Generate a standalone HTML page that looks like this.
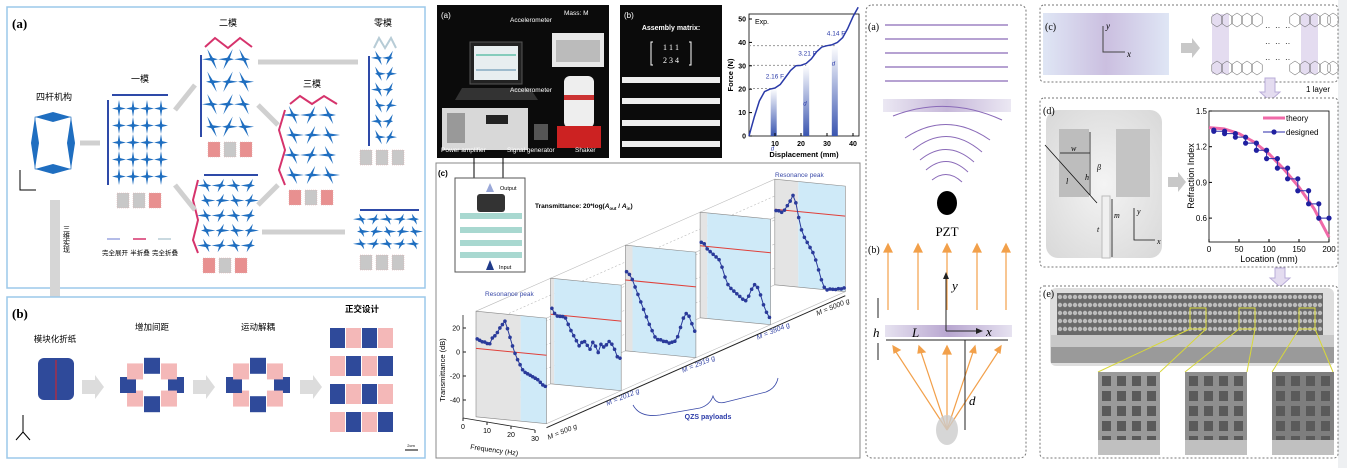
<!DOCTYPE html>
<html><head><meta charset="utf-8">
<style>
html,body{margin:0;padding:0;background:#fff;}
svg{display:block;font-family:"Liberation Sans","Noto Sans CJK SC",sans-serif;}
.serif{font-family:"Liberation Serif","Noto Serif CJK SC",serif;}
</style></head>
<body>
<svg id="fig" width="1347" height="468" viewBox="0 0 1347 468" xmlns="http://www.w3.org/2000/svg">
<defs>
<linearGradient id="purp" x1="0" x2="1"><stop offset="0" stop-color="#e6e2f0"/><stop offset="0.5" stop-color="#b8a6d0"/><stop offset="1" stop-color="#e6e2f0"/></linearGradient>
<linearGradient id="purp2" x1="0" x2="1"><stop offset="0" stop-color="#dfe6f5"/><stop offset="0.5" stop-color="#cbbfe0"/><stop offset="1" stop-color="#dfe6f5"/></linearGradient>
<linearGradient id="gbar" x1="0" y1="0" x2="0" y2="1"><stop offset="0" stop-color="#ffffff"/><stop offset="1" stop-color="#3a55b0"/></linearGradient>
<radialGradient id="cell3d" cx="0.5" cy="0.5" r="0.7"><stop offset="0" stop-color="#f4f4f4"/><stop offset="1" stop-color="#d8d8d8"/></radialGradient>
</defs>

<g>
<rect x="7" y="7" width="418" height="281" fill="#fff" stroke="#9cc8ea" stroke-width="1.5"/>
<text x="12" y="28" class="serif" font-size="13" font-weight="bold">(a)</text>
<text x="54" y="100" font-size="9" text-anchor="middle">四杆机构</text>
<text x="140" y="82" font-size="9" text-anchor="middle">一模</text>
<text x="228" y="26" font-size="9" text-anchor="middle">二模</text>
<text x="312" y="87" font-size="9" text-anchor="middle">三模</text>
<text x="383" y="26" font-size="9" text-anchor="middle">零模</text>
<g id="origami"></g>
<g>
<line x1="107" y1="239" x2="120" y2="239" stroke="#9aa6e0" stroke-width="1.5"/>
<line x1="133" y1="239" x2="146" y2="239" stroke="#d6336c" stroke-width="1.5"/>
<line x1="158" y1="239" x2="171" y2="239" stroke="#b7ccd6" stroke-width="1.5"/>
<text x="115" y="255" font-size="6.5" text-anchor="middle">完全展开</text>
<text x="140" y="255" font-size="6.5" text-anchor="middle">半折叠</text>
<text x="165" y="255" font-size="6.5" text-anchor="middle">完全折叠</text>
</g>
<polygon points="50,200 60,200 60,305 66,305 55,322 44,305 50,305" fill="#d6d6d6"/>
<text x="66" y="225" font-size="7" writing-mode="tb">三维实现</text>
<path d="M20,170 L20,190 L36,190" stroke="#000" fill="none" stroke-width="1"/>
<rect x="7" y="297" width="418" height="161" fill="#fff" stroke="#9cc8ea" stroke-width="1.5"/>
<text x="12" y="318" class="serif" font-size="13" font-weight="bold">(b)</text>
<text x="55" y="342" font-size="8.5" text-anchor="middle">模块化折纸</text>
<text x="152" y="330" font-size="8.5" text-anchor="middle">增加间距</text>
<text x="258" y="330" font-size="8.5" text-anchor="middle">运动解耦</text>
<text x="362" y="312" font-size="8.5" font-weight="bold" text-anchor="middle">正交设计</text>
<g id="cubes"></g>
<polygon points="82,380 95,380 95,375 104,387 95,399 95,394 82,394" fill="#dcdcdc"/>
<polygon points="193,380 206,380 206,375 215,387 206,399 206,394 193,394" fill="#dcdcdc"/>
<polygon points="300,380 313,380 313,375 322,387 313,399 313,394 300,394" fill="#dcdcdc"/>
<line x1="405" y1="450" x2="418" y2="450" stroke="#000" stroke-width="1"/>
<text x="411" y="447" font-size="4" text-anchor="middle">2cm</text>
<path d="M23,432 L23,415 M23,432 L16,440 M23,432 L30,440" stroke="#000" stroke-width="1" fill="none"/>
</g>

<g>
<rect x="437" y="5" width="172" height="153" fill="#0b0b0b"/>
<rect x="470" y="42" width="52" height="42" fill="#222" stroke="#555"/>
<rect x="474" y="46" width="44" height="34" fill="#e8eef0"/>
<line x1="476" y1="55" x2="516" y2="55" stroke="#2a8"/>
<line x1="476" y1="70" x2="516" y2="70" stroke="#58a"/>
<polygon points="462,88 530,88 538,100 455,100" fill="#333"/>
<rect x="442" y="108" width="86" height="42" fill="#d8d8d8"/>
<rect x="447" y="113" width="18" height="30" fill="#999"/>
<rect x="486" y="115" width="22" height="9" fill="#222"/>
<rect x="534" y="124" width="14" height="16" fill="#555"/>
<rect x="552" y="33" width="52" height="34" fill="#e8e8e8"/>
<rect x="556" y="40" width="44" height="22" fill="#bbb"/>
<rect x="564" y="76" width="30" height="52" rx="6" fill="#eee"/>
<rect x="564" y="95" width="30" height="5" fill="#c33"/>
<rect x="557" y="126" width="44" height="22" fill="#c22"/>
<g fill="#fff" font-size="6.5">
<text x="441" y="18" font-size="8">(a)</text>
<text x="564" y="15">Mass: M</text>
<text x="510" y="22">Accelerometer</text>
<text x="510" y="92">Accelerometer</text>
<text x="441" y="152">Power amplifier</text>
<text x="507" y="152">Signal generator</text>
<text x="575" y="152">Shaker</text>
</g>
</g>
<g>
<rect x="620" y="5" width="102" height="153" fill="#0b0b0b"/>
<text x="624" y="18" fill="#fff" font-size="8">(b)</text>
<text x="671" y="30" fill="#fff" font-size="7" font-weight="bold" text-anchor="middle">Assembly matrix:</text>
<text x="671" y="50" fill="#fff" font-size="8" class="serif" text-anchor="middle">1   1   1</text>
<text x="671" y="63" fill="#fff" font-size="8" class="serif" text-anchor="middle">2   3   4</text>
<path d="M653,42 L651,42 L651,65 L653,65 M689,42 L691,42 L691,65 L689,65" stroke="#fff" fill="none"/>
<rect x="622" y="77" width="98" height="6" fill="#eee"/>
<rect x="622" y="98" width="98" height="6" fill="#eee"/>
<rect x="622" y="120" width="98" height="6" fill="#eee"/>
<rect x="622" y="141" width="98" height="6" fill="#eee"/>
</g>
<g id="forceChart"></g>

<rect x="436" y="163" width="424" height="295" fill="#fff" stroke="#888" stroke-width="1"/>
<text x="438" y="176" font-size="8" font-weight="bold">(c)</text>
<line x1="474" y1="158" x2="474" y2="178" stroke="#000"/>
<line x1="503" y1="158" x2="503" y2="178" stroke="#000"/>
<g>
<rect x="455" y="178" width="70" height="94" fill="#fff" stroke="#555"/>
<rect x="460" y="213" width="62" height="6" fill="#a8d8d0"/>
<rect x="460" y="227" width="62" height="6" fill="#a8d8d0"/>
<rect x="460" y="240" width="62" height="6" fill="#a8d8d0"/>
<rect x="460" y="252" width="62" height="6" fill="#a8d8d0"/>
<rect x="477" y="194" width="28" height="18" rx="3" fill="#333"/>
<polygon points="486,192 490,183 494,192" fill="#9aa8d8"/>
<polygon points="486,270 490,260 494,270" fill="#1f3a8a"/>
<text x="500" y="190" font-size="5.5">Output</text>
<text x="499" y="269" font-size="5.5">Input</text>
</g>
<text x="535" y="208" font-size="6.5" font-weight="bold">Transmittance: 20*log(<tspan font-style="italic">A</tspan><tspan font-size="4.5" dy="2">out</tspan><tspan dy="-2"> / </tspan><tspan font-style="italic">A</tspan><tspan font-size="4.5" dy="2">in</tspan><tspan dy="-2">)</tspan></text>
<g id="transChart"></g>

<g>
<rect x="866" y="5" width="160" height="453" rx="6" fill="#fff" stroke="#777" stroke-dasharray="2,2"/>
<text x="868" y="30" class="serif" font-size="10">(a)</text>
<g stroke="#8a6ab8" stroke-width="1.2">
<line x1="885" y1="25" x2="1008" y2="25"/><line x1="885" y1="39" x2="1008" y2="39"/><line x1="885" y1="53" x2="1008" y2="53"/><line x1="885" y1="67" x2="1008" y2="67"/><line x1="885" y1="81" x2="1008" y2="81"/>
</g>
<rect x="883" y="99" width="128" height="13" fill="url(#purp)" opacity="0.8"/>
<g fill="none" stroke="#8a6ab8" stroke-width="1">
<path d="M893,116 Q947,95 1002,120"/>
<path d="M905,138 Q947,110 990,140"/>
<path d="M913,150 Q947,122 982,152"/>
<path d="M920,160 Q947,138 974,162"/>
<path d="M926,170 Q947,152 968,172"/>
<path d="M932,180 Q947,168 962,182"/>
</g>
<ellipse cx="947" cy="203" rx="10" ry="12" fill="#000"/>
<text x="947" y="236" class="serif" font-size="13" text-anchor="middle">PZT</text>
<text x="868" y="253" class="serif" font-size="10">(b)</text>
<g stroke="#f2a04a" stroke-width="1.2" fill="#f2a04a">
<line x1="888" y1="310" x2="888" y2="250"/><polygon points="884,252 888,244 892,252"/>
<line x1="918" y1="310" x2="918" y2="250"/><polygon points="914,252 918,244 922,252"/>
<line x1="947" y1="310" x2="947" y2="250"/><polygon points="943,252 947,244 951,252"/>
<line x1="977" y1="310" x2="977" y2="250"/><polygon points="973,252 977,244 981,252"/>
<line x1="1006" y1="310" x2="1006" y2="250"/><polygon points="1002,252 1006,244 1010,252"/>
<line x1="947" y1="430" x2="896" y2="352"/><polygon points="893,346 900,350 894,353"/>
<line x1="947" y1="430" x2="921" y2="352"/><polygon points="919,346 925,352 918,353"/>
<line x1="947" y1="430" x2="947" y2="352"/><polygon points="943,354 947,346 951,354"/>
<line x1="947" y1="430" x2="973" y2="352"/><polygon points="975,346 976,353 970,352"/>
<line x1="947" y1="430" x2="998" y2="352"/><polygon points="1001,346 1000,353 995,350"/>
</g>
<rect x="885" y="325" width="127" height="12" fill="url(#purp)"/>
<path d="M946,331 L946,275 M946,331 L980,331" stroke="#222" stroke-width="1" fill="none"/>
<polygon points="943,279 946,272 949,279" fill="#222"/><polygon points="976,328 983,331 976,334" fill="#222"/>
<line x1="886" y1="340" x2="1008" y2="340" stroke="#222"/>
<line x1="965" y1="340" x2="965" y2="430" stroke="#222"/>
<line x1="878" y1="298" x2="878" y2="318" stroke="#222"/>
<line x1="878" y1="343" x2="878" y2="360" stroke="#222"/>
<ellipse cx="947" cy="430" rx="11" ry="15" fill="#ccc" opacity="0.8"/>
<g class="serif" font-style="italic" font-size="13">
<text x="952" y="290">y</text><text x="986" y="336">x</text><text x="873" y="337">h</text><text x="912" y="337">L</text><text x="969" y="405">d</text>
</g>
</g>

<rect x="1338" y="0" width="9" height="468" fill="#eef0f2"/>
<g>
<rect x="1040" y="5" width="298" height="77" rx="4" fill="#fff" stroke="#777" stroke-dasharray="2,2"/>
<rect x="1043" y="13" width="126" height="62" fill="url(#purp2)"/>
<text x="1045" y="30" class="serif" font-size="10">(c)</text>
<path d="M1103,26 L1103,52 L1125,52" stroke="#444" fill="none"/>
<text x="1106" y="29" class="serif" font-style="italic" font-size="9">y</text>
<text x="1127" y="57" class="serif" font-style="italic" font-size="9">x</text>
<polygon points="1181,43 1192,43 1192,38 1200,48 1192,58 1192,53 1181,53" fill="#c8c8c8"/>
<g id="hexgrid"></g>
<polygon points="1265,78 1275,78 1275,92 1280,92 1270,101 1260,92 1265,92" fill="#e4dcf0" stroke="#b9acd8"/>
<text x="1318" y="92" font-size="8" text-anchor="middle">1 layer</text>
<rect x="1040" y="98" width="298" height="169" rx="4" fill="#fff" stroke="#777" stroke-dasharray="2,2"/>
<rect x="1046" y="110" width="116" height="148" rx="12" fill="url(#cell3d)"/>
<text x="1043" y="114" class="serif" font-size="10">(d)</text>
<rect x="1059" y="129" width="30" height="68" fill="#bdbdbd"/>
<rect x="1116" y="129" width="34" height="68" fill="#c4c4c4"/>
<rect x="1102" y="196" width="8" height="62" fill="#f0f0f0" stroke="#bbb"/>
<g stroke="#111" stroke-width="0.8" fill="none"><line x1="1090" y1="132" x2="1090" y2="195"/><line x1="1060" y1="153" x2="1090" y2="153"/><line x1="1045" y1="145" x2="1097" y2="203"/><line x1="1112" y1="199" x2="1112" y2="257"/><path d="M1134,208 L1134,240 L1155,240"/></g>
<g class="serif" font-style="italic" font-size="8"><text x="1071" y="151">w</text><text x="1085" y="180">h</text><text x="1066" y="184">l</text><text x="1097" y="170">β</text><text x="1114" y="218">m</text><text x="1097" y="232">t</text><text x="1137" y="214">y</text><text x="1157" y="244">x</text></g>
<polygon points="1168,177 1178,177 1178,172 1186,182 1178,192 1178,187 1168,187" fill="#c8c8c8"/>
<g id="refChart"></g>
<polygon points="1275,268 1285,268 1285,278 1290,278 1280,287 1270,278 1275,278" fill="#e4dcf0" stroke="#b9acd8"/>
<rect x="1040" y="286" width="298" height="172" rx="4" fill="#fff" stroke="#777" stroke-dasharray="2,2"/>
<rect x="1050" y="288" width="284" height="78" rx="6" fill="#dedede"/>
<rect x="1057" y="293" width="266" height="44" fill="#6a6a6a"/>
<g id="tubes"></g>
<rect x="1051" y="335" width="283" height="12" fill="#c8c8c8"/>
<rect x="1051" y="347" width="283" height="16" fill="#9a9a9a"/>
<text x="1043" y="297" class="serif" font-size="10">(e)</text>
<g fill="none" stroke="#d8d83a" stroke-width="1"><rect x="1190" y="308" width="16" height="21"/><rect x="1239" y="308" width="16" height="21"/><rect x="1299" y="308" width="16" height="21"/>
<line x1="1190" y1="329" x2="1098" y2="372"/><line x1="1206" y1="329" x2="1160" y2="372"/><line x1="1239" y1="329" x2="1185" y2="372"/><line x1="1255" y1="329" x2="1247" y2="372"/><line x1="1299" y1="329" x2="1272" y2="372"/><line x1="1315" y1="329" x2="1333" y2="372"/></g>
<rect x="1098" y="372" width="62" height="83" fill="#9a9a9a"/>
<rect x="1185" y="372" width="62" height="83" fill="#8e8e8e"/>
<rect x="1272" y="372" width="62" height="83" fill="#7e7e7e"/>
<g id="insets"></g>
</g>
</svg>

<script>
// ---------------- data: refraction chart ----------------
var theoryLoc = [0, 25, 50, 75, 100, 125, 150, 175, 200];
var theoryN = [1.36, 1.35, 1.31, 1.24, 1.14, 1.01, 0.86, 0.68, 0.44];
var designLoc = [8, 26, 44, 61, 79, 96, 114, 131, 148, 166, 183, 200];
var designN = [1.34, 1.33, 1.31, 1.28, 1.23, 1.17, 1.10, 1.02, 0.93, 0.83, 0.72, 0.60];
var refXTicks = [0, 50, 100, 150, 200];
var refYTicks = [0.6, 0.9, 1.2, 1.5];
// ---------------- data: force chart ----------------
var dispMM = [0, 2, 4, 6, 8, 10, 12, 14, 16, 18, 20, 22, 24, 26, 28, 30, 32, 34, 36, 38, 40, 42];
var forceN = [0, 8, 15, 19, 20, 20.5, 22, 25, 28, 30, 30.2, 31, 33, 36, 38, 38.6, 39, 40, 42, 46, 51, 55];
var forceXTicks = [10, 20, 30, 40];
var forceYTicks = [0, 10, 20, 30, 40, 50];
var plateauF = [20.3, 30.2, 38.6];
var plateauD = [9.5, 22, 33];
var plateauLabels = ["2.16 F", "3.21 F", "4.14 F"];
// ---------------- data: transmittance ----------------
var massLabels = ["M = 500 g", "M = 2012 g", "M = 2919 g", "M = 3804 g", "M = 5000 g"];
var grayWidthHz = [19, 1.5, 3, 3, 10];
var redLineDB = [3, 4, 5, 6, 9];
var tickDB = [20, 0, -20, -40];
var tickHz = [0, 10, 20, 30];
var trans0 = [11,10,9,9,8,8,13,15,18,22,25,28,22,15,8,2,-3,-7,-11,-13,-14,-15,-16,-17,-18,-20,-22,-23];
var trans1 = [9,5,3,3,3,2,-3,-8,-12,-16,-20,-17,-16,-19,-22,-16,-19,-24,-17,-19,-17,-14,-16,-20,-26,-27];
var trans2 = [12,10,6,0,-6,-12,-18,-24,-30,-35,-40,-42,-42,-43,-43,-44,-43,-42,-38,-30,-22,-18,-20,-26,-32];
var trans3 = [9,8,4,2,0,-2,-4,-10,-18,-24,-27,-29,-31,-33,-35,-36,-32,-26,-22,-24,-30,-38,-44,-48];
var trans4 = [8,8,7,9,13,17,22,16,4,-6,-12,-16,-20,-24,-30,-38,-46,-52,-54,-53,-53,-53,-52,-52,-51];

var NS = "http://www.w3.org/2000/svg";
function mk(parent, tag, attrs, txt) {
  var e = document.createElementNS(NS, tag);
  for (var k in attrs) e.setAttribute(k, attrs[k]);
  if (txt !== undefined) e.textContent = txt;
  parent.appendChild(e);
  return e;
}

// ---------- refraction chart ----------
(function(){
  var g = document.getElementById('refChart');
  var X = function(v){ return 1209 + v * 0.6; };
  var Y = function(v){ return 111 + (1.5 - v) * 119; };
  var fr = mk(g, 'rect', {x:1209, y:111, width:120, height:131, fill:'#fff', stroke:'#000', 'stroke-width':0.8});
  
  
  refXTicks.forEach(function(t){
    mk(g,'line',{x1:X(t),y1:242,x2:X(t),y2:239,stroke:'#000'});
    var tx = mk(g,'text',{x:X(t),y:252,'font-size':8,'text-anchor':'middle'}, String(t));
    
    
  });
  refYTicks.forEach(function(t){
    mk(g,'line',{x1:1209,y1:Y(t),x2:1212,y2:Y(t),stroke:'#000'});
    var tx = mk(g,'text',{x:1207,y:Y(t)+3,'font-size':8,'text-anchor':'end'}, t.toFixed(1));
    
    
  });
  var xt = mk(g,'text',{x:1269,y:262,'font-size':9,'text-anchor':'middle'},'Location (mm)');
  
  
  var yt = mk(g,'text',{x:1194,y:176,'font-size':9,'text-anchor':'middle',transform:'rotate(-90 1194 176)'},'Refraction Index');
  
  
  var d = theoryLoc.map(function(v,i){ return (i?'L':'M') + X(v) + ',' + Y(theoryN[i]); }).join(' ');
  var th = mk(g,'path',{d:d, fill:'none', stroke:'#f06aa8', 'stroke-width':3});
  
  
  var sd = '';
  for (var i=0;i<designLoc.length;i++){
    sd += (i?' L':'M') + X(designLoc[i]) + ',' + Y(designN[i]);
    if (i < designLoc.length-1) sd += ' L' + X(designLoc[i]) + ',' + Y(designN[i+1]) + ' L' + X(designLoc[i+1]) + ',' + Y(designN[i+1]);
  }
  var ds = mk(g,'path',{d:sd, fill:'none', stroke:'#2a2aa8', 'stroke-width':1});
  
  
  for (var j=0;j<designLoc.length;j++){
    var c1 = mk(g,'circle',{cx:X(designLoc[j]),cy:Y(designN[j]),r:2.6,fill:'#2020a0'});
    
    
    if (j < designLoc.length-1) {
      var c2 = mk(g,'circle',{cx:X(designLoc[j]),cy:Y(designN[j+1]),r:2.6,fill:'#2020a0'});
      
      
    }
  }
  var lg = mk(g,'g',{});
  
  
  mk(lg,'line',{x1:1263,y1:118,x2:1285,y2:118,stroke:'#f06aa8','stroke-width':3});
  mk(lg,'text',{x:1286,y:121,'font-size':8},'theory');
  mk(lg,'line',{x1:1263,y1:132,x2:1285,y2:132,stroke:'#2a2aa8'});
  mk(lg,'circle',{cx:1274,cy:132,r:2.6,fill:'#2020a0'});
  mk(lg,'text',{x:1286,y:135,'font-size':8},'designed');
})();

// ---------- force chart ----------
(function(){
  var g = document.getElementById('forceChart');
  var X = function(v){ return 749 + v * 2.6; };
  var Y = function(v){ return 136 - v * 2.34; };
  var fr = mk(g,'rect',{x:749,y:14,width:110,height:122,fill:'#fff',stroke:'#000','stroke-width':0.8});
  
  
  for (var p=0;p<plateauD.length;p++){
    var b = mk(g,'rect',{x:X(plateauD[p])-3,y:Y(plateauF[p]),width:6,height:136-Y(plateauF[p]),fill:'url(#gbar)'});
    
    
    mk(g,'line',{x1:749,y1:Y(plateauF[p]),x2:X(plateauD[p]),y2:Y(plateauF[p]),stroke:'#999','stroke-dasharray':'2,2'});
    var lb = mk(g,'text',{x:X(plateauD[p])-8,y:Y(plateauF[p])-10,'font-size':6.5,fill:'#2a3aa8'}, plateauLabels[p]);
    
    
    mk(g,'text',{x:X(plateauD[p])-3,y:Y(plateauF[p])+ (p==0?62:(p==1?40:20)),'font-size':6,fill:'#2a3aa8','font-style':'italic'}, 'd');
  }
  forceXTicks.forEach(function(t){
    mk(g,'line',{x1:X(t),y1:136,x2:X(t),y2:133,stroke:'#000'});
    var tx = mk(g,'text',{x:X(t),y:146,'font-size':7,'font-weight':'bold','text-anchor':'middle'}, String(t));
    
    
  });
  forceYTicks.forEach(function(t){
    mk(g,'line',{x1:749,y1:Y(t),x2:752,y2:Y(t),stroke:'#000'});
    var tx = mk(g,'text',{x:746,y:Y(t)+2.5,'font-size':7,'font-weight':'bold','text-anchor':'end'}, String(t));
    
    
  });
  var d = dispMM.map(function(v,i){ return (i?'L':'M') + X(v) + ',' + Y(forceN[i]); }).join(' ');
  var ln = mk(g,'path',{d:d,fill:'none',stroke:'#2a3aa8','stroke-width':1.5,'stroke-linejoin':'round'});
  
  
  mk(g,'text',{x:755,y:24,'font-size':7},'Exp.');
  var xt = mk(g,'text',{x:804,y:157,'font-size':7.5,'font-weight':'bold','text-anchor':'middle'},'Displacement (mm)');
  
  
  var yt = mk(g,'text',{x:733,y:75,'font-size':7.5,'font-weight':'bold','text-anchor':'middle',transform:'rotate(-90 733 75)'},'Force (N)');
  
  
})();

// ---------- transmittance 3D chart ----------
(function(){
  var g = document.getElementById('transChart');
  var series = [trans0, trans1, trans2, trans3, trans4];
  var labOffX = [2, -14, -13, -13, -28];
  var labOffY = [16, 15, 15, 15, 24];
  function P(k, f, db){ return [476 + f*2.35 + k*74.7, 352 - db*1.2 + f*0.23 - k*33]; }
  function pt(a){ return a[0].toFixed(1)+','+a[1].toFixed(1); }
  var topDB = 34, botDB = -54;
  [topDB, 20, 0, -20, -40, botDB].forEach(function(db){
    var a = P(0,0,db), b = P(4,0,db);
    mk(g,'line',{x1:a[0],y1:a[1],x2:b[0],y2:b[1],stroke:'#bbb','stroke-width':0.6,'stroke-dasharray':(db===topDB||db===botDB)?'none':'2,2'});
    var c = P(0,30,db), e = P(4,30,db);
    if (db===topDB||db===botDB) mk(g,'line',{x1:c[0],y1:c[1],x2:e[0],y2:e[1],stroke:'#bbb','stroke-width':0.6});
  });
  for (var k=0;k<5;k++){
    var pg = mk(g,'g',{});
    
    
    var gw = grayWidthHz[k];
    mk(pg,'polygon',{points:[P(k,0,topDB),P(k,gw,topDB),P(k,gw,botDB),P(k,0,botDB)].map(pt).join(' '),fill:'#e4e4e4',stroke:'none'});
    mk(pg,'polygon',{points:[P(k,gw,topDB),P(k,30,topDB),P(k,30,botDB),P(k,gw,botDB)].map(pt).join(' '),fill:'#cfeaf8',stroke:'none'});
    mk(pg,'polygon',{points:[P(k,0,topDB),P(k,30,topDB),P(k,30,botDB),P(k,0,botDB)].map(pt).join(' '),fill:'none',stroke:'#888','stroke-width':0.6});
    var r0 = P(k,0,redLineDB[k]), r1 = P(k,30,redLineDB[k]);
    var rl = mk(pg,'line',{x1:r0[0],y1:r0[1],x2:r1[0],y2:r1[1],stroke:'#e0403a','stroke-width':1});
    
    
    var s = series[k], n = s.length;
    var pts = s.map(function(v,i){ return P(k, 0.5 + i*29/(n-1), v); });
    var ln = mk(pg,'polyline',{points:pts.map(pt).join(' '),fill:'none',stroke:'#2a3a9a','stroke-width':1});
    
    
    pts.forEach(function(p){
      var c = mk(pg,'circle',{cx:p[0],cy:p[1],r:1.8,fill:'#2a3a9a'});
      
      
    });
    var lp = P(k,30,botDB);
    var lx = lp[0]+labOffX[k], ly = lp[1]+labOffY[k];
    var ml = mk(g,'text',{x:lx,y:ly,'font-size':7,fill:(k==0||k==4)?'#222':'#3a4aa8','font-style':'italic',transform:'rotate(-22 '+lx+' '+ly+')'}, massLabels[k]);
    
    
  }
  mk(g,'line',{x1:463,y1:315,x2:463,y2:418,stroke:'#222','stroke-width':0.8});
  tickDB.forEach(function(t){
    var y = 352 - t*1.2;
    mk(g,'line',{x1:463,y1:y,x2:466,y2:y,stroke:'#222'});
    var tx = mk(g,'text',{x:460,y:y+2.5,'font-size':7,'text-anchor':'end'}, String(t));
    
    
  });
  mk(g,'line',{x1:463,y1:418,x2:535,y2:430,stroke:'#222','stroke-width':0.8});
  tickHz.forEach(function(t){
    var x = 463 + t*2.4, y = 418 + t*0.4;
    mk(g,'line',{x1:x,y1:y,x2:x,y2:y+3,stroke:'#222'});
    var tx = mk(g,'text',{x:x,y:y+11,'font-size':7,'text-anchor':'middle'}, String(t));
    
    
  });
  var a = P(0,30,botDB), b = P(4,30,botDB);
  mk(g,'line',{x1:a[0],y1:a[1]+4,x2:b[0],y2:b[1]+4,stroke:'#222','stroke-width':1});
  var xt = mk(g,'text',{x:470,y:449,'font-size':7,transform:'rotate(8 470 449)'},'Frequency (Hz)');
  
  
  var yt = mk(g,'text',{x:445,y:370,'font-size':7.5,'text-anchor':'middle',transform:'rotate(-90 445 370)'},'Transmittance (dB)');
  
  
  var r1 = mk(g,'text',{x:485,y:296,'font-size':6.5,fill:'#3a4aa8'},'Resonance peak');
  
  
  var r2 = mk(g,'text',{x:775,y:177,'font-size':6.5,fill:'#3a4aa8'},'Resonance peak');
  
  
  mk(g,'path',{d:'M633,405 Q640,418 660,415 L700,408 Q710,405 713,396 Q716,405 726,402 L766,392 Q776,388 778,378',fill:'none',stroke:'#3a4aa8','stroke-width':0.8});
  var q = mk(g,'text',{x:708,y:419,'font-size':7,'font-weight':'bold',fill:'#2a3aa8','text-anchor':'middle'},'QZS payloads');
  
  
})();

// ---------- decorations ----------
(function(){
  var g = document.getElementById('origami');
  function grid(x,y,w,h,r,c,skew){
    var cw = w/c, rh = h/r;
    for (var i=0;i<r;i++) for (var j=0;j<c;j++){
      var cx = x + j*cw + cw/2, cy = y + i*rh + rh/2, sx = skew ? (i%2?2:-2) : 0;
      mk(g,'polygon',{points:(cx-cw/2+sx)+','+cy+' '+cx+','+(cy-1.6)+' '+(cx+cw/2+sx)+','+cy+' '+cx+','+(cy+1.6),fill:'#1f6ec0'});
      var attrs = {points:cx+','+(cy-rh/2)+' '+(cx+1.4)+','+cy+' '+cx+','+(cy+rh/2)+' '+(cx-1.4)+','+cy,fill:'#1f6ec0'};
      if (skew) attrs.transform = 'rotate('+(j%2?25:-25)+' '+cx+' '+cy+')';
      mk(g,'polygon',attrs);
    }
  }
  grid(112,100,56,85,5,4,false);
  grid(204,48,48,90,4,3,true);
  grid(284,105,54,80,4,3,true);
  grid(199,178,58,75,5,4,true);
  grid(373,50,22,95,6,2,true);
  grid(355,213,66,37,3,5,true);
  mk(g,'line',{x1:112,y1:95,x2:168,y2:95,stroke:'#2e4aa8','stroke-width':2});
  mk(g,'line',{x1:108,y1:100,x2:108,y2:185,stroke:'#2e4aa8','stroke-width':2});
  mk(g,'polyline',{points:'205,47 215,38 228,48 240,38 252,47',fill:'none',stroke:'#d6336c','stroke-width':2});
  mk(g,'line',{x1:201,y1:55,x2:201,y2:137,stroke:'#2e4aa8','stroke-width':2});
  mk(g,'polyline',{points:'290,104 300,96 312,104 324,96 337,104',fill:'none',stroke:'#d6336c','stroke-width':2});
  mk(g,'polyline',{points:'285,110 279,130 285,150 279,170 285,185',fill:'none',stroke:'#d6336c','stroke-width':2});
  mk(g,'line',{x1:204,y1:175,x2:258,y2:175,stroke:'#2e4aa8','stroke-width':2});
  mk(g,'polyline',{points:'198,180 193,200 198,220 193,240 198,253',fill:'none',stroke:'#d6336c','stroke-width':2});
  mk(g,'polyline',{points:'374,48 379,38 385,48 391,38 396,48',fill:'none',stroke:'#b7ccd6','stroke-width':2});
  mk(g,'line',{x1:369,y1:56,x2:369,y2:146,stroke:'#2e4aa8','stroke-width':2});
  mk(g,'line',{x1:360,y1:210,x2:419,y2:210,stroke:'#2e4aa8','stroke-width':2});
  mk(g,'rect',{x:35,y:117,width:36,height:52,fill:'none',stroke:'#1f6ec0','stroke-width':0.6});
  mk(g,'polygon',{points:'35,117 53,112 71,117 53,122',fill:'#1f6ec0'});
  mk(g,'polygon',{points:'35,169 53,164 71,169 53,174',fill:'#1f6ec0'});
  mk(g,'polygon',{points:'35,117 31,143 35,169 39,143',fill:'#1f6ec0'});
  mk(g,'polygon',{points:'71,117 67,143 71,169 75,143',fill:'#1f6ec0'});
  [[80,143,100,143],[175,110,195,85],[175,185,195,210],[258,62,358,62],[258,105,278,125],[258,205,278,185],[262,232,345,232]].forEach(function(a){
    mk(g,'line',{x1:a[0],y1:a[1],x2:a[2],y2:a[3],stroke:'#d0d0d0','stroke-width':5});
  });
  [[117,193],[208,142],[289,190],[203,258],[360,150],[360,255]].forEach(function(s,i){
    var cols = (i==0) ? ['#c8c8c8','#c8c8c8','#e89090'] : ['#e89090','#c8c8c8','#e89090'];
    if (i>=4) cols = ['#c8c8c8','#c8c8c8','#c8c8c8'];
    for (var t=0;t<3;t++) mk(g,'rect',{x:s[0]+t*16,y:s[1],width:12,height:15,fill:cols[t],stroke:'#e0b0b0','stroke-width':0.5,'stroke-dasharray':'1,1'});
  });
  var cg = document.getElementById('cubes');
  mk(cg,'rect',{x:38,y:358,width:36,height:42,rx:6,fill:'#2f4a9a'});
  mk(cg,'line',{x1:56,y1:360,x2:56,y2:400,stroke:'#e02020'});
  function ring(cx,cy,rad){
    for (var a=0;a<8;a++){
      var ang = a*Math.PI/4, x = cx + rad*Math.cos(ang), y = cy + rad*0.8*Math.sin(ang);
      mk(cg,'rect',{x:x-8,y:y-8,width:16,height:16,fill:(a%2)?'#f4b8b8':'#2f4a9a'});
    }
  }
  ring(152,385,24); ring(258,385,24);
  for (var i=0;i<4;i++) for (var j=0;j<4;j++){
    mk(cg,'rect',{x:330+j*16,y:328+i*28,width:15,height:20,fill:((i+j)%2)?'#f4b8b8':'#2f4a9a'});
  }
  var hg = document.getElementById('hexgrid');
  mk(hg,'rect',{x:1212,y:14,width:17,height:60,fill:'#e4dcf0'});
  mk(hg,'rect',{x:1301,y:14,width:17,height:60,fill:'#e4dcf0'});
  function hex(cx,cy){ var p=[]; for (var k=0;k<6;k++){ var a=Math.PI/3*k+Math.PI/6; p.push((cx+6*Math.cos(a)).toFixed(1)+','+(cy+7*Math.sin(a)).toFixed(1)); } mk(hg,'polygon',{points:p.join(' '),fill:'none',stroke:'#555','stroke-width':0.5}); }
  [1217,1227,1237,1247,1257,1295,1305,1315,1325,1333].forEach(function(x){ hex(x,20); hex(x,68); });
  [1265,1275,1285].forEach(function(x){ mk(hg,'text',{x:x,y:30,'font-size':8},'··'); mk(hg,'text',{x:x,y:46,'font-size':8},'··'); mk(hg,'text',{x:x,y:62,'font-size':8},'··'); });
  var tb = document.getElementById('tubes');
  for (var r=0;r<5;r++) for (var x=1060;x<1322;x+=5) mk(tb,'circle',{cx:x,cy:297+r*8,r:2.2,fill:'#bcbcbc'});
  var ins = document.getElementById('insets');
  [1098,1185,1272].forEach(function(x0){
    for (var i=0;i<5;i++) for (var j=0;j<4;j++) mk(ins,'rect',{x:x0+4+j*15,y:376+i*15,width:9,height:10,fill:'#5a5a5a'});
    mk(ins,'rect',{x:x0,y:440,width:62,height:15,fill:'#c0c0c0'});
  });
})();
</script>
</body></html>
